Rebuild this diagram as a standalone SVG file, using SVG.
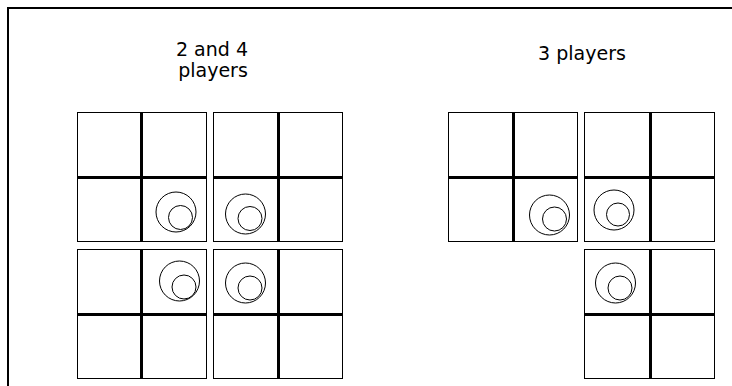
<svg xmlns="http://www.w3.org/2000/svg" width="732" height="386" viewBox="0 0 732 386">
<style>
.frame{fill:none;stroke:#000;stroke-width:2}
.blk rect{fill:#fff;stroke:#000;stroke-width:1}
.blk line{stroke:#000;stroke-width:3}
.pc circle{fill:none;stroke:#000;stroke-width:1}
.lbl{font-family:"DejaVu Sans",sans-serif;font-size:19px;fill:#000;text-anchor:middle}
</style>
<rect width="732" height="386" fill="#fff"/>
<path class="frame" d="M8,386 V8 H732"/>
<g id="label-left"><text class="lbl" x="212" y="56">2 and 4</text><text class="lbl" x="213" y="77">players</text></g>
<g id="label-right"><text class="lbl" x="582" y="60">3 players</text></g>
<g id="block-A" class="blk"><rect x="77.5" y="112.5" width="129" height="129"/><line x1="141.5" y1="112" x2="141.5" y2="242"/><line x1="77" y1="177.5" x2="206" y2="177.5"/></g>
<g id="block-B" class="blk"><rect x="213.5" y="112.5" width="129" height="129"/><line x1="278.5" y1="112" x2="278.5" y2="242"/><line x1="213" y1="177.5" x2="343" y2="177.5"/></g>
<g id="block-C" class="blk"><rect x="77.5" y="249.5" width="129" height="129"/><line x1="141.5" y1="249" x2="141.5" y2="379"/><line x1="77" y1="314.5" x2="206" y2="314.5"/></g>
<g id="block-D" class="blk"><rect x="213.5" y="249.5" width="129" height="129"/><line x1="278.5" y1="249" x2="278.5" y2="379"/><line x1="213" y1="314.5" x2="343" y2="314.5"/></g>
<g id="block-E" class="blk"><rect x="448.5" y="112.5" width="129" height="129"/><line x1="513.5" y1="112" x2="513.5" y2="242"/><line x1="448" y1="177.5" x2="578" y2="177.5"/></g>
<g id="block-F" class="blk"><rect x="584.5" y="112.5" width="130" height="129"/><line x1="650.5" y1="112" x2="650.5" y2="242"/><line x1="584" y1="177.5" x2="715" y2="177.5"/></g>
<g id="block-G" class="blk"><rect x="584.5" y="249.5" width="130" height="129"/><line x1="650.5" y1="249" x2="650.5" y2="379"/><line x1="584" y1="314.5" x2="715" y2="314.5"/></g>
<g id="piece-1" class="pc"><circle cx="176" cy="212" r="20"/><circle cx="180.5" cy="217.5" r="12"/></g>
<g id="piece-2" class="pc"><circle cx="245.5" cy="214" r="20"/><circle cx="250" cy="218.5" r="12"/></g>
<g id="piece-3" class="pc"><circle cx="179.5" cy="281" r="20"/><circle cx="184" cy="287" r="12"/></g>
<g id="piece-4" class="pc"><circle cx="245.5" cy="283" r="20"/><circle cx="250" cy="288" r="12"/></g>
<g id="piece-5" class="pc"><circle cx="549.5" cy="215" r="20"/><circle cx="554.5" cy="219" r="12"/></g>
<g id="piece-6" class="pc"><circle cx="614" cy="210" r="20"/><circle cx="618" cy="214.5" r="11.5"/></g>
<g id="piece-7" class="pc"><circle cx="615.5" cy="283" r="20"/><circle cx="620" cy="288" r="12"/></g>
</svg>
